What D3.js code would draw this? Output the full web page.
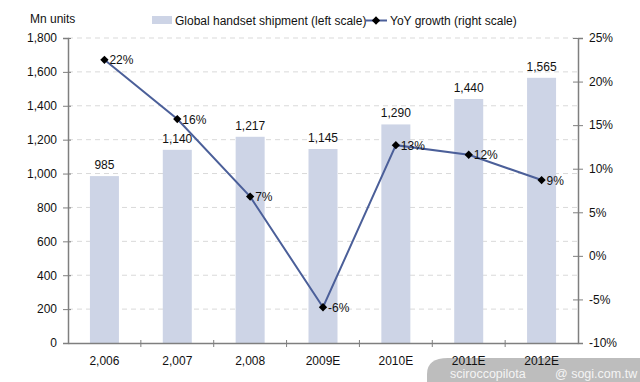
<!DOCTYPE html>
<html>
<head>
<meta charset="utf-8">
<script src="https://cdn.jsdelivr.net/npm/d3@7"></script>
<style>
  body { margin: 0; background: #fff; }
  svg { display: block; font-family: "Liberation Sans", Arial, sans-serif; }
</style>
</head>
<body>
<svg id="chart" width="640" height="382"></svg>
<script>
// ── Data ─────────────────────────────────────────────────────────────
const years = ['2,006', '2,007', '2,008', '2009E', '2010E', '2011E', '2012E'];
const shipments = [985, 1140, 1217, 1145, 1290, 1440, 1565];
const growth = [22.5, 15.7, 6.8, -5.9, 12.7, 11.6, 8.7];
const growthLabels = ['22%', '16%', '7%', '-6%', '13%', '12%', '9%'];
const leftTicks = [0, 200, 400, 600, 800, 1000, 1200, 1400, 1600, 1800];
const rightTicks = [-10, -5, 0, 5, 10, 15, 20, 25];

// ── Layout ───────────────────────────────────────────────────────────
const plotL = 68, plotR = 578, plotT = 38, plotB = 343;
const svg = d3.select('#chart');
const AXIS = '#7f7f7f';
const BAR = '#cdd4e6';
const LINE = '#4b5f99';

const xb = d3.scaleBand().domain(years).range([plotL, plotR]);
const yL = d3.scaleLinear().domain([0, 1800]).range([plotB, plotT]);
const yR = d3.scaleLinear().domain([-10, 25]).range([plotB, plotT]);
const cx = i => xb(years[i]) + xb.bandwidth() / 2;

// ── Watermark backdrop (photo overlay) ───────────────────────────────
svg.append('path')
  .attr('d', 'M427,382 L427,374 Q427,358 448,358 L640,358 L640,382 Z')
  .attr('fill', '#bdbdbd');

// gridlines
svg.append('g')
  .selectAll('line')
  .data(leftTicks.filter(d => d > 0))
  .join('line')
  .attr('x1', plotL).attr('x2', plotR)
  .attr('y1', d => yL(d)).attr('y2', d => yL(d))
  .attr('stroke', '#d9d9d9')
  .attr('stroke-dasharray', '5,4');

// bars
svg.append('g')
  .selectAll('rect')
  .data(shipments)
  .join('rect')
  .attr('x', (d, i) => cx(i) - 14.5)
  .attr('width', 29)
  .attr('y', d => yL(d))
  .attr('height', d => plotB - yL(d))
  .attr('fill', BAR);

// bar labels
svg.append('g')
  .selectAll('text')
  .data(shipments)
  .join('text')
  .attr('x', (d, i) => cx(i))
  .attr('y', d => yL(d) - 7)
  .attr('text-anchor', 'middle')
  .attr('font-size', 12)
  .attr('fill', '#111')
  .text(d => d3.format(',')(d));

// ── Axes ─────────────────────────────────────────────────────────────
const axL = svg.append('g')
  .attr('transform', `translate(${plotL},0)`)
  .call(d3.axisLeft(yL).tickValues(leftTicks).tickFormat(d3.format(',')).tickSize(5).tickPadding(6));
const axR = svg.append('g')
  .attr('transform', `translate(${plotR},0)`)
  .call(d3.axisRight(yR).tickValues(rightTicks).tickFormat(d => d + '%').tickSize(5).tickPadding(6));
const axB = svg.append('g')
  .attr('transform', `translate(0,${plotB})`)
  .call(d3.axisBottom(xb).tickSize(0).tickPadding(13));
// category boundary ticks
svg.append('g')
  .selectAll('line')
  .data(years.slice(1))
  .join('line')
  .attr('x1', d => xb(d)).attr('x2', d => xb(d))
  .attr('y1', plotB - 3).attr('y2', plotB + 4)
  .attr('stroke', AXIS);

[axL, axR, axB].forEach(a => {
  a.select('.domain').attr('stroke', AXIS).attr('stroke-width', 1.5);
  a.selectAll('.tick line').attr('stroke', AXIS);
  a.selectAll('.tick text').attr('font-size', 12).attr('fill', '#111')
    .attr('font-family', '"Liberation Sans", Arial, sans-serif');
});
axL.selectAll('.tick line').attr('x1', 3);
axR.selectAll('.tick line').attr('x1', -5);

// ── Growth line ──────────────────────────────────────────────────────
svg.append('path')
  .datum(growth)
  .attr('d', d3.line().x((d, i) => cx(i)).y(d => yR(d)))
  .attr('fill', 'none')
  .attr('stroke', LINE)
  .attr('stroke-width', 2);

svg.append('g')
  .selectAll('path')
  .data(growth)
  .join('path')
  .attr('d', d3.symbol(d3.symbolDiamond2, 44))
  .attr('transform', (d, i) => `translate(${cx(i)},${yR(d)})`)
  .attr('fill', '#000');

svg.append('g')
  .selectAll('text')
  .data(growth)
  .join('text')
  .attr('x', (d, i) => cx(i) + 5)
  .attr('y', d => yR(d) + 4.5)
  .attr('font-size', 12)
  .attr('fill', '#111')
  .text((d, i) => growthLabels[i]);

// ── Titles & legend ──────────────────────────────────────────────────
svg.append('text').attr('x', 30).attr('y', 23).attr('font-size', 12).attr('fill', '#111').text('Mn units');

const lg = svg.append('g');
lg.append('rect').attr('x', 152).attr('y', 16).attr('width', 20).attr('height', 8).attr('fill', BAR);
lg.append('text').attr('x', 175).attr('y', 25).attr('font-size', 12).attr('fill', '#111')
  .text('Global handset shipment (left scale)');
lg.append('line').attr('x1', 365).attr('x2', 387).attr('y1', 20.5).attr('y2', 20.5)
  .attr('stroke', LINE).attr('stroke-width', 2);
lg.append('path').attr('d', d3.symbol(d3.symbolDiamond2, 44))
  .attr('transform', 'translate(376,20.5)').attr('fill', '#000');
lg.append('text').attr('x', 390).attr('y', 25).attr('font-size', 12).attr('fill', '#111')
  .text('YoY growth (right scale)');

// ── Watermark text ───────────────────────────────────────────────────
svg.append('text').attr('x', 450).attr('y', 378).attr('font-size', 12.5).attr('fill', '#f4f4f4')
  .text('sciroccopilota');
svg.append('text').attr('x', 555).attr('y', 378).attr('font-size', 12.5).attr('fill', '#f4f4f4')
  .text('@ sogi.com.tw');
</script>
</body>
</html>
